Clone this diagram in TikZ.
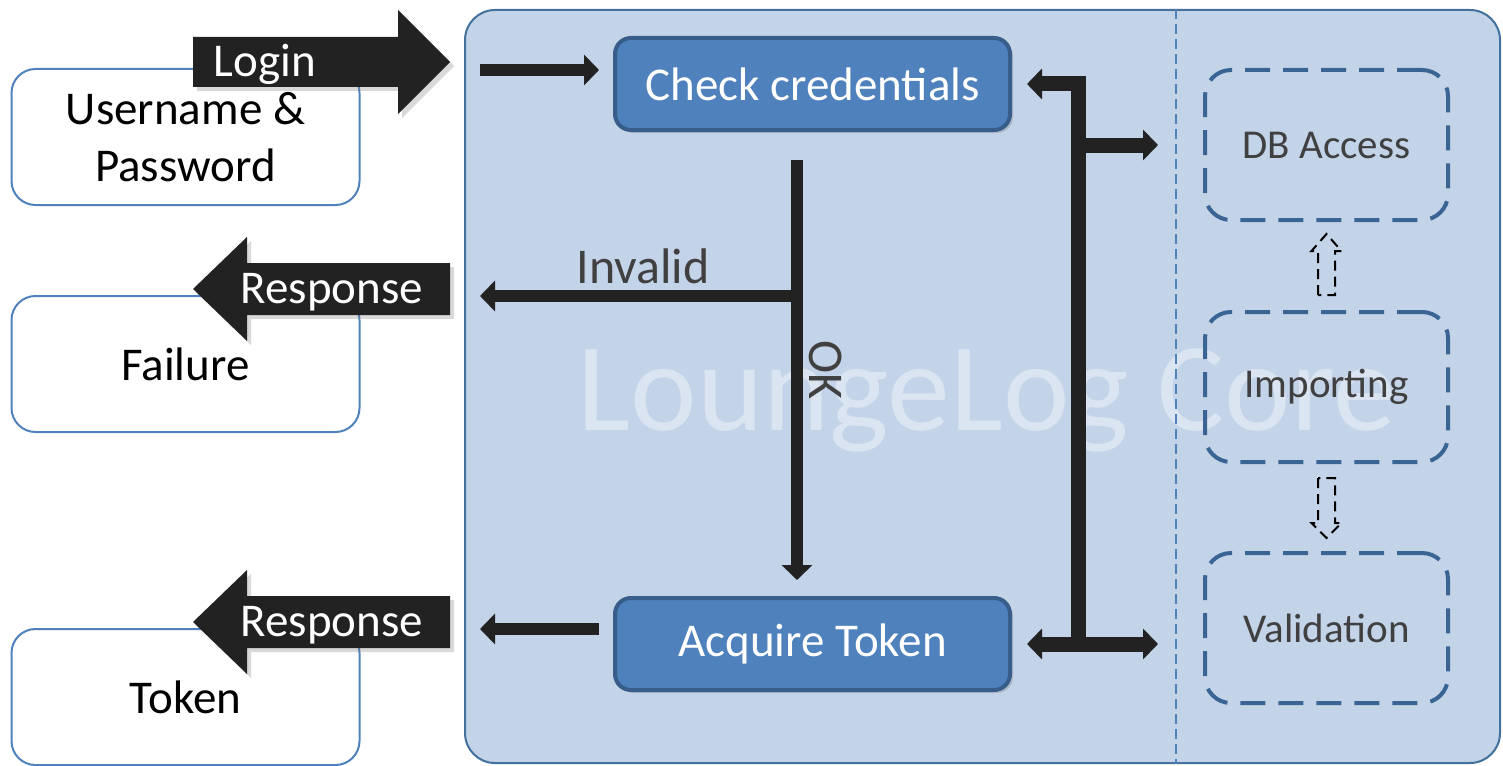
\documentclass[tikz,border=0pt]{standalone}
\usepackage{fontspec}
\setmainfont{Carlito}
\usetikzlibrary{arrows.meta,shadows,calc}
\definecolor{panelfill}{HTML}{C3D3E8}
\definecolor{panelline}{HTML}{41719C}
\definecolor{accent}{HTML}{4F81BD}
\definecolor{accentdark}{HTML}{385D8A}
\definecolor{dashblue}{HTML}{3A6494}
\definecolor{ink}{HTML}{222222}
\definecolor{graytext}{HTML}{404040}
\begin{document}
\begin{tikzpicture}[x=0.5pt,y=-0.5pt,
  panel/.style={draw=panelline, line width=1pt, fill=panelfill, rounded corners=15pt,
    minimum width=517.5pt, minimum height=376.5pt, inner sep=0pt},
  inbox/.style={draw=accent, line width=1pt, fill=white, rounded corners=12pt,
    minimum width=174pt, minimum height=68pt, align=center,
    font=\fontsize{23.5pt}{28.5pt}\selectfont},
  procbox/.style={draw=accentdark, line width=2pt, fill=accent, rounded corners=8pt,
    minimum width=197.5pt, minimum height=46pt, text=white,
    font=\fontsize{23.5pt}{28pt}\selectfont,
    drop shadow={opacity=0.3, shadow xshift=1.5pt, shadow yshift=-1.5pt}},
  modbox/.style={draw=dashblue, line width=2pt, dash pattern=on 12.5pt off 6.5pt,
    rounded corners=13pt, minimum width=121.5pt, minimum height=75pt,
    text=graytext, font=\fontsize{20.5pt}{24pt}\selectfont},
  tip/.tip={Triangle[width=15pt,length=7.5pt]},
  flow/.style={draw=ink, line width=6pt, -tip},
  bus/.style={draw=ink, line width=7.5pt},
  blockarrow/.style={fill=ink, drop shadow={opacity=0.3, shadow xshift=2pt, shadow yshift=-2pt}},
  arrowtext/.style={text=white, inner sep=0pt, anchor=base, font=\fontsize{23.5pt}{28pt}\selectfont},
  flowlabel/.style={text=graytext, inner sep=0pt, font=\fontsize{25pt}{30pt}\selectfont},
  watermark/.style={text=white, opacity=0.4, inner sep=0pt, anchor=base, font=\fontsize{63pt}{70pt}\selectfont},
  divider/.style={draw=accent, line width=0.8pt, dash pattern=on 5pt off 2.5pt},
  hollow/.style={draw=black, line width=1pt, dash pattern=on 5pt off 3pt, line join=miter}]

\useasboundingbox (0,0) rectangle (1503,765);

% core panel
\node[panel] (core) at (982.5,386.5) {};
\node[watermark] (wm) at (987,430) {LoungeLog Core};
\coordinate (divx) at (1176,0);
\draw[divider] (core.north -| divx) -- (core.south -| divx);

% client boxes
\node[inbox] (cred) at (185.5,137) {Username \&\\Password};
\node[inbox] (fail) at (185.5,364) {Failure};
\node[inbox] (tok) at (185.5,697) {Token};

% block arrows
\fill[blockarrow] (193,37) -- (398,37) -- (398,10) -- (450,62) -- (398,114) -- (398,87) -- (193,87) -- cycle;
\node[arrowtext] (login) at (265,77) {Login};
\fill[blockarrow] (450,263) -- (247,263) -- (247,237) -- (193,289) -- (247,341) -- (247,315) -- (450,315) -- cycle;
\node[arrowtext] (resp1) at (332,303) {Response};
\fill[blockarrow] (450,596) -- (247,596) -- (247,570) -- (193,622) -- (247,674) -- (247,648) -- (450,648) -- cycle;
\node[arrowtext] (resp2) at (332,636) {Response};

% process boxes
\node[procbox] (check) at (812.5,84) {Check credentials};
\node[procbox] (acq) at (812.5,644) {Acquire Token};

% module boxes
\node[modbox] (db) at (1326.5,145) {DB Access};
\node[modbox] (imp) at (1326.5,387) {Importing};
\node[modbox] (val) at (1326.5,628) {Validation};

% flow connectors
\coordinate (loginend) at (480,70);
\draw[flow, shorten >=7pt] (loginend) -- (loginend -| check.west);
\coordinate (oktop) at (797,160);
\draw[flow, shorten >=8pt] (oktop) -- (oktop |- acq.north);
\coordinate (invend) at (480,296);
\draw[flow] (invend -| oktop) -- (invend);
\node[flowlabel, anchor=base] (invalid) at (643,283) {Invalid};
\node[flowlabel, rotate=-90] (ok) at (826,370) {OK};
\coordinate (tokend) at (480,629);
\draw[flow, shorten <=7pt] (tokend -| acq.west) -- (tokend);

% bus
\coordinate (busx) at (1078,0);
\draw[bus, -tip, shorten >=7.5pt] (acq.east -| busx) |- (check.east);
\draw[bus, -tip, shorten >=22.5pt] (db.west -| busx) -- (db.west);
\draw[bus, tip-tip, shorten <=7.5pt, shorten >=22.5pt] (acq.east) -- (acq.east -| val.west);

% hollow dashed arrows between modules
\draw[hollow] ($(imp.north)+(-8.5,-15)$) -- ++(0,-44) -- ++(-6.5,0) -- ++(15,-17) -- ++(15,17) -- ++(-6.5,0) -- ++(0,44) -- cycle;
\draw[hollow] ($(imp.south)+(-8.5,14)$) -- ++(0,45) -- ++(-6.5,0) -- ++(15,15) -- ++(15,-15) -- ++(-6.5,0) -- ++(0,-45) -- cycle;
\end{tikzpicture}
\end{document}
